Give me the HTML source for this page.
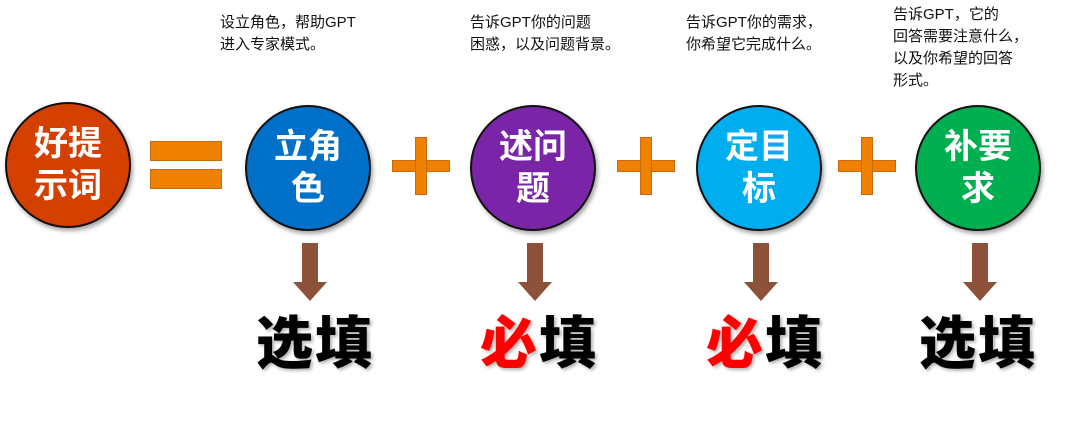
<!DOCTYPE html>
<html><head><meta charset="utf-8"><style>
body{margin:0;width:1080px;height:425px;background:#fff;position:relative;overflow:hidden;font-family:"Liberation Sans","Noto Sans CJK SC",sans-serif}
.c{position:absolute;width:126px;height:126px;border-radius:50%;border:2px solid #111;box-sizing:border-box;color:#fff;font-weight:bold;font-size:34px;line-height:42px;text-align:center;display:flex;align-items:center;justify-content:center;box-shadow:2px 3px 4px rgba(0,0,0,.35)}
.n{position:absolute;font-size:15px;line-height:22px;color:#111}
.b{position:absolute;background:#f08000;border:1px solid #c86a10;box-sizing:border-box}
.s{position:absolute;background:#8b5239;width:16px;height:40px;top:243px}
.h{position:absolute;width:0;height:0;border-left:17px solid transparent;border-right:17px solid transparent;border-top:19px solid #8b5239;top:282px}
.t{position:absolute;top:308px;font-size:57px;font-weight:900;line-height:72px;color:#000;text-shadow:2px 2px 3px rgba(0,0,0,.3);letter-spacing:2px}
</style></head><body>
<div class="n" style="left:220px;top:12px">设立角色，帮助GPT<br>进入专家模式。</div>
<div class="n" style="left:470px;top:12px">告诉GPT你的问题<br>困惑，以及问题背景。</div>
<div class="n" style="left:686px;top:12px">告诉GPT你的需求，<br>你希望它完成什么。</div>
<div class="n" style="left:893px;top:4px">告诉GPT，它的<br>回答需要注意什么，<br>以及你希望的回答<br>形式。</div>

<div class="c" style="left:5px;top:102px;background:#d44000">好提<br>示词</div>
<div class="b" style="left:150px;top:141px;width:72px;height:20px"></div>
<div class="b" style="left:150px;top:169px;width:72px;height:20px"></div>

<div class="c" style="left:245px;top:105px;background:#0070c8">立角<br>色</div>
<div class="b" style="left:392px;top:160px;width:58px;height:12px"></div>
<div class="b" style="left:415px;top:137px;width:12px;height:58px"></div>

<div class="c" style="left:470px;top:105px;background:#7a25a8">述问<br>题</div>
<div class="b" style="left:617px;top:160px;width:58px;height:12px"></div>
<div class="b" style="left:640px;top:137px;width:12px;height:58px"></div>

<div class="c" style="left:696px;top:105px;background:#00aef0">定目<br>标</div>
<div class="b" style="left:838px;top:160px;width:58px;height:12px"></div>
<div class="b" style="left:861px;top:137px;width:12px;height:58px"></div>

<div class="c" style="left:915px;top:105px;background:#00b050">补要<br>求</div>

<div class="s" style="left:302px"></div><div class="h" style="left:293px"></div>
<div class="s" style="left:527px"></div><div class="h" style="left:518px"></div>
<div class="s" style="left:753px"></div><div class="h" style="left:744px"></div>
<div class="s" style="left:972px"></div><div class="h" style="left:963px"></div>

<div class="t" style="left:256px">选填</div>
<div class="t" style="left:480px"><span style="color:#f00">必</span>填</div>
<div class="t" style="left:706px"><span style="color:#f00">必</span>填</div>
<div class="t" style="left:919px">选填</div>
</body></html>
